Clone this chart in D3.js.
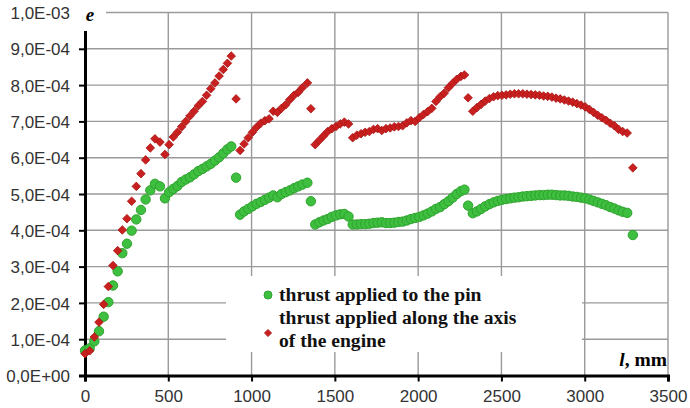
<!DOCTYPE html>
<html>
<head>
<meta charset="utf-8">
<script src="https://cdn.jsdelivr.net/npm/d3@7"></script>
<style>
  body { margin: 0; background: #fff; }
  svg { display: block; }
</style>
</head>
<body>
<svg id="chart" width="690" height="408"></svg>
<script>
// Strain e along the length l (mm) for two ways of applying thrust.
// Values of e are stored in units of 1e-4.
const E_UNIT = 1e-4;

const lengths = [
  // first span
  0, 28, 56, 84, 112, 140, 168, 196, 224, 252, 280, 308, 336, 364, 392, 420, 450, 480,
  505, 530, 555, 580, 605, 630, 655, 680, 705, 730, 755, 780, 805, 830, 855, 878,
  907,
  // second span
  931, 955, 980, 1005, 1030, 1055, 1080, 1105, 1130, 1155, 1180, 1205, 1230, 1255, 1280, 1305, 1335,
  1356,
  // third span
  1382, 1407, 1432, 1457, 1482, 1507, 1532, 1557, 1582,
  1607, 1632, 1657, 1682, 1707, 1732, 1757, 1782, 1807, 1832, 1857, 1882, 1907, 1932, 1957,
  1982, 2007, 2032, 2057, 2082, 2107, 2132, 2157, 2182, 2207, 2232, 2257, 2278,
  2300,
  // fourth span
  2328, 2353, 2378, 2403, 2428, 2453, 2478, 2503, 2528, 2553, 2578, 2603, 2628, 2653, 2678,
  2703, 2728, 2753, 2778, 2803, 2828, 2853, 2878, 2903, 2928, 2953, 2978, 3003, 3028, 3053,
  3078, 3103, 3128, 3153, 3178, 3203, 3228, 3255,
  3289
];

// thrust applied to the pin
const pinThrust = [
  0.69, 0.75, 0.94, 1.22, 1.62, 2.02, 2.48, 2.87, 3.37, 3.63, 3.99, 4.30, 4.56, 4.85, 5.10, 5.28, 5.21, 4.88,
  5.05, 5.14, 5.22, 5.33, 5.40, 5.46, 5.54, 5.63, 5.69, 5.76, 5.83, 5.92, 6.01, 6.12, 6.23, 6.31,
  5.45,
  4.43, 4.52, 4.59, 4.66, 4.73, 4.78, 4.84, 4.90, 4.96, 4.91, 5.00, 5.05, 5.10, 5.16, 5.21, 5.26, 5.31,
  4.80,
  4.16, 4.22, 4.27, 4.31, 4.37, 4.41, 4.44, 4.45, 4.38,
  4.16, 4.16, 4.17, 4.17, 4.18, 4.20, 4.21, 4.22, 4.20, 4.20, 4.21, 4.23, 4.24, 4.27, 4.31,
  4.34, 4.37, 4.41, 4.46, 4.52, 4.59, 4.64, 4.72, 4.80, 4.90, 5.00, 5.08, 5.12,
  4.68,
  4.47, 4.52, 4.59, 4.66, 4.72, 4.77, 4.81, 4.84, 4.86, 4.88, 4.90, 4.91, 4.93, 4.94, 4.95,
  4.96, 4.97, 4.97, 4.98, 4.98, 4.97, 4.96, 4.96, 4.95, 4.93, 4.92, 4.90, 4.88, 4.85, 4.81,
  4.77, 4.73, 4.69, 4.64, 4.60, 4.55, 4.51, 4.48,
  3.87
];

// thrust applied along the axis of the engine
const axisThrust = [
  0.60, 0.68, 1.06, 1.47, 1.96, 2.45, 3.03, 3.44, 4.01, 4.32, 4.80, 5.21, 5.56, 5.94, 6.27, 6.52, 6.43, 6.09,
  6.36, 6.57, 6.70, 6.85, 7.00, 7.15, 7.28, 7.43, 7.55, 7.72, 7.90, 8.06, 8.25, 8.43, 8.60, 8.80,
  7.62,
  6.20, 6.38, 6.55, 6.70, 6.84, 6.95, 7.02, 7.07, 7.28, 7.25, 7.36, 7.46, 7.60, 7.72, 7.80, 7.93, 8.06,
  7.35,
  6.36, 6.48, 6.60, 6.72, 6.80, 6.86, 6.93, 6.98, 6.93,
  6.55, 6.62, 6.66, 6.70, 6.72, 6.78, 6.80, 6.75, 6.80, 6.82, 6.85, 6.86, 6.88, 6.96, 7.02,
  7.00, 7.10, 7.19, 7.27, 7.36, 7.55, 7.68, 7.78, 7.93, 8.05, 8.16, 8.24, 8.28,
  7.65,
  7.28, 7.38, 7.47, 7.56, 7.63, 7.68, 7.71, 7.72, 7.73, 7.75, 7.76, 7.76, 7.76, 7.75, 7.74,
  7.73, 7.72, 7.70, 7.69, 7.67, 7.64, 7.62, 7.59, 7.56, 7.53, 7.49, 7.45, 7.40, 7.33, 7.25,
  7.17, 7.10, 7.03, 6.95, 6.88, 6.78, 6.72, 6.68,
  5.72
];

const xTicks = [0, 500, 1000, 1500, 2000, 2500, 3000, 3500];
const yTicks = [0, 1e-4, 2e-4, 3e-4, 4e-4, 5e-4, 6e-4, 7e-4, 8e-4, 9e-4, 1e-3];
const yTickLabels = ["0,0E+00", "1,0E-04", "2,0E-04", "3,0E-04", "4,0E-04", "5,0E-04",
                     "6,0E-04", "7,0E-04", "8,0E-04", "9,0E-04", "1,0E-03"];
const legendPin = ["thrust applied to the pin"];
const legendAxis = ["thrust applied along the axis", "of the engine"];

const svg = d3.select("#chart");
const x = d3.scaleLinear().domain([0, 3500]).range([85, 668]);
const y = d3.scaleLinear().domain([0, 1e-3]).range([375.5, 12.5]);

const GREEN = "#3fbf3f", GREEN_EDGE = "#2ea32e";
const RED = "#c8201f", RED_EDGE = "#a81414";
const SANS = "'Liberation Sans', Arial, sans-serif";
const SERIF = "'Liberation Serif', 'Times New Roman', serif";

// gridlines
const grid = svg.append("g").attr("stroke", "#9a9a9a").attr("stroke-width", 1.4);
grid.selectAll("line.h").data(yTicks.slice(1)).join("line")
  .attr("x1", x(0)).attr("x2", x(3500))
  .attr("y1", d => y(d)).attr("y2", d => y(d));
grid.selectAll("line.v").data(xTicks.slice(1)).join("line")
  .attr("x1", d => x(d)).attr("x2", d => x(d))
  .attr("y1", y(1e-3)).attr("y2", y(0));

// axes
const yAxis = svg.append("g").attr("transform", `translate(${x(0)},0)`)
  .call(d3.axisLeft(y).tickValues(yTicks).tickFormat((d, i) => yTickLabels[i]).tickSize(6).tickPadding(9));
const xAxis = svg.append("g").attr("transform", `translate(0,${y(0)})`)
  .call(d3.axisBottom(x).tickValues(xTicks).tickFormat(d3.format("d")).tickSize(6).tickPadding(8));
[yAxis, xAxis].forEach(a => {
  a.select(".domain").attr("stroke", "#000").attr("stroke-width", 3);
  a.selectAll(".tick line").attr("stroke", "#000").attr("stroke-width", 2);
  a.selectAll(".tick text").attr("fill", "#333").style("font-family", SANS).style("font-size", "17px");
});
yAxis.selectAll(".tick text").attr("dy", "0.36em");
xAxis.selectAll(".tick text").attr("dy", "0.74em");

// axis titles
svg.append("rect").attr("x", 77).attr("y", 0).attr("width", 29).attr("height", 31).attr("fill", "#fff");
svg.append("text").attr("x", 90).attr("y", 21).attr("text-anchor", "middle")
  .style("font-family", SERIF).style("font-size", "19px").style("font-weight", "bold").style("font-style", "italic")
  .text("e");
const xt = svg.append("text").attr("x", 667).attr("y", 366).attr("text-anchor", "end")
  .style("font-family", SERIF).style("font-size", "19.5px").style("font-weight", "bold");
xt.append("tspan").style("font-style", "italic").text("l");
xt.append("tspan").text(", mm");

// data
const rows = lengths.map((l, i) => ({ l, pin: pinThrust[i] * E_UNIT, axis: axisThrust[i] * E_UNIT }));
const diamond = s => `M0,${-s}L${s},0L0,${s}L${-s},0Z`;

svg.append("g").selectAll("circle").data(rows).join("circle")
  .attr("cx", d => x(d.l)).attr("cy", d => y(d.pin)).attr("r", 4.7)
  .attr("fill", GREEN).attr("stroke", GREEN_EDGE).attr("stroke-width", 1);

svg.append("g").selectAll("path").data(rows).join("path")
  .attr("transform", d => `translate(${x(d.l)},${y(d.axis)})`)
  .attr("d", diamond(4.3))
  .attr("fill", RED).attr("stroke", RED_EDGE).attr("stroke-width", 0.8);

// legend
const lg = svg.append("g");
lg.append("rect").attr("x", 226).attr("y", 276).attr("width", 356).attr("height", 76).attr("fill", "#fff");
lg.append("circle").attr("cx", 268).attr("cy", 295).attr("r", 4).attr("fill", GREEN).attr("stroke", GREEN_EDGE);
lg.append("path").attr("transform", "translate(268,333)").attr("d", diamond(3.6))
  .attr("fill", RED).attr("stroke", RED_EDGE).attr("stroke-width", 0.8);
const legendText = (lines, y0) => lines.forEach((t, i) =>
  lg.append("text").attr("x", 279).attr("y", y0 + i * 23.3)
    .style("font-family", SERIF).style("font-size", "19.6px").style("font-weight", "bold")
    .attr("fill", "#111").text(t));
legendText(legendPin, 300.5);
legendText(legendAxis, 324);
</script>
</body>
</html>
